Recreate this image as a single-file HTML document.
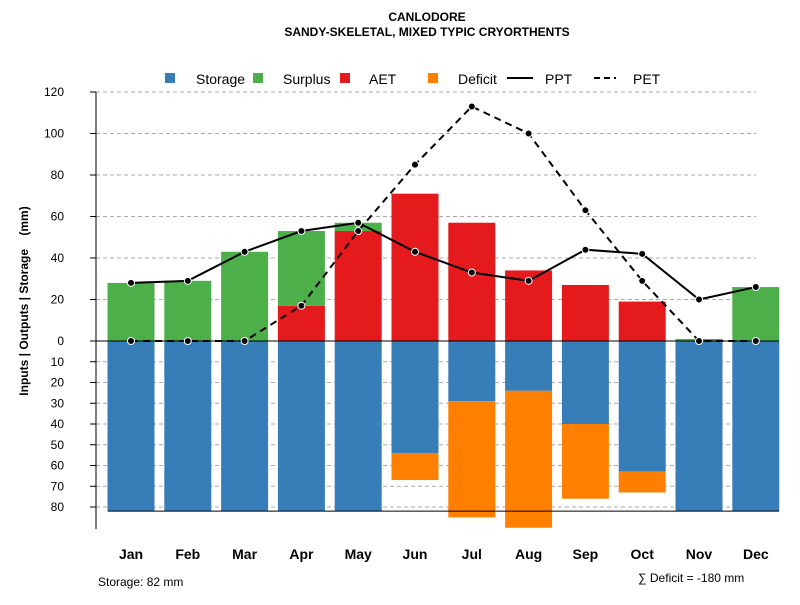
<!DOCTYPE html>
<html><head><meta charset="utf-8"><style>
body{margin:0;background:#fff}
svg{font-family:"Liberation Sans",sans-serif}
</style></head><body>
<svg id="c" width="800" height="600" viewBox="0 0 800 600" xmlns="http://www.w3.org/2000/svg">
<text x="427" y="21" text-anchor="middle" font-size="12" font-weight="bold">CANLODORE</text>
<text x="427" y="36" text-anchor="middle" font-size="12" font-weight="bold">SANDY-SKELETAL, MIXED TYPIC CRYORTHENTS</text>
<g id="legend" font-size="14">
<rect x="165" y="73" width="10" height="10" fill="#377eb8"/>
<text x="196" y="84">Storage</text>
<rect x="253" y="73" width="10" height="10" fill="#4daf4a"/>
<text x="283" y="84">Surplus</text>
<rect x="340" y="73" width="10" height="10" fill="#e41a1c"/>
<text x="369" y="84">AET</text>
<rect x="428" y="73" width="10" height="10" fill="#ff7f00"/>
<text x="458" y="84">Deficit</text>
<line x1="507" y1="78" x2="533" y2="78" stroke="#000" stroke-width="2"/>
<text x="545" y="84">PPT</text>
<line x1="594" y1="78" x2="616" y2="78" stroke="#000" stroke-width="2" stroke-dasharray="6,4"/>
<text x="633" y="84">PET</text>
</g>
<text transform="translate(28,301) rotate(-90)" text-anchor="middle" font-size="12" font-weight="bold" style="white-space:pre">Inputs | Outputs | Storage    (mm)</text>
<text x="98" y="586" font-size="12">Storage: 82 mm</text>
<text x="638" y="582" font-size="12">∑ Deficit = -180 mm</text>
</svg>
<script>
const months=["Jan","Feb","Mar","Apr","May","Jun","Jul","Aug","Sep","Oct","Nov","Dec"];
const ppt=[28,29,43,53,57,43,33,29,44,42,20,26];
const pet=[0,0,0,17,53,85,113,100,63,29,0,0];
const aet=[0,0,0,17,53,71,57,34,27,19,0,0];
const surplus=[28,29,43,36,4,0,0,0,0,0,1,26];
const storage=[82,82,82,82,82,54,29,24,40,63,82,82];
const deficit=[0,0,0,0,0,13,56,66,36,10,0,0];
const upTicks=[0,20,40,60,80,100,120];
const downTicks=[10,20,30,40,50,60,70,80];
const NS="http://www.w3.org/2000/svg";
const svg=document.getElementById('c');
const y0=341,k=2.075;
const yUp=v=>y0-v*k, yDn=v=>y0+v*k;
const xC=i=>131+i*56.8;
const bw=47;
function el(t,a,p){const e=document.createElementNS(NS,t);for(const n in a)e.setAttribute(n,a[n]);(p||svg).appendChild(e);return e;}
const grid=el('g',{});


upTicks.forEach(v=>{if(v>0){const l=el('line',{x1:96,x2:756,y1:yUp(v),y2:yUp(v),stroke:'#aaa','stroke-dasharray':'4,3'},grid);

}});
downTicks.forEach(v=>{const l=el('line',{x1:96,x2:756,y1:yDn(v),y2:yDn(v),stroke:'#aaa','stroke-dasharray':'4,3'},grid);

});
const bars=el('g',{});


months.forEach((m,i)=>{
 const x=xC(i)-bw/2;
 let r;
 if(aet[i]>0){r=el('rect',{x:x,y:yUp(aet[i]),width:bw,height:aet[i]*k,fill:'#e41a1c'},bars);
 
 }
 if(surplus[i]>0){r=el('rect',{x:x,y:yUp(aet[i]+surplus[i]),width:bw,height:surplus[i]*k,fill:'#4daf4a'},bars);
 
 }
 r=el('rect',{x:x,y:y0,width:bw,height:storage[i]*k,fill:'#377eb8'},bars);
 
 
 if(deficit[i]>0){r=el('rect',{x:x,y:yDn(storage[i]),width:bw,height:deficit[i]*k,fill:'#ff7f00'},bars);
 
 }
 const t=el('text',{x:xC(i),y:559,'text-anchor':'middle','font-size':14,'font-weight':'bold'});
 t.textContent=m;
 
 
});
let l=el('line',{x1:96,x2:779,y1:y0,y2:y0,stroke:'#000'});


l=el('line',{x1:108,x2:779,y1:yDn(82),y2:yDn(82),stroke:'#000'});


l=el('line',{x1:96,x2:96,y1:yUp(120),y2:529,stroke:'#000'});


upTicks.forEach(v=>{el('line',{x1:90,x2:96,y1:yUp(v),y2:yUp(v),stroke:'#000'});
 const t=el('text',{x:64,y:yUp(v)+4,'text-anchor':'end','font-size':12});t.textContent=v;
 
 });
downTicks.forEach(v=>{el('line',{x1:90,x2:96,y1:yDn(v),y2:yDn(v),stroke:'#000'});
 const t=el('text',{x:64,y:yDn(v)+4,'text-anchor':'end','font-size':12});t.textContent=v;
 
 });
function series(arr,name,dash){
 const p=el('polyline',{points:arr.map((v,i)=>xC(i)+','+yUp(v)).join(' '),fill:'none',stroke:'#000','stroke-width':2,'stroke-dasharray':dash||'none'});
 
 
 arr.forEach((v,i)=>{const c=el('circle',{cx:xC(i),cy:yUp(v),r:3.5,fill:'#000',stroke:'#fff','stroke-width':1});
 
 });
}
series(pet,'pet','7,5');
series(ppt,'ppt');
</script>
</body></html>
